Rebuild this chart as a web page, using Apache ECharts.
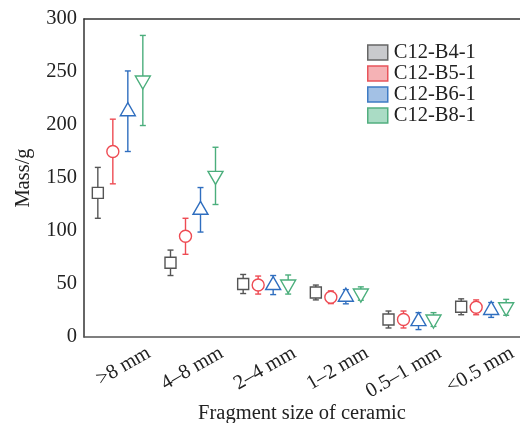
<!DOCTYPE html>
<html>
<head>
<meta charset="utf-8">
<script src="https://cdn.jsdelivr.net/npm/echarts@6/dist/echarts.min.js"></script>
<style>
  html, body { margin: 0; padding: 0; background: #fff; }
  #chart { width: 520px; height: 423px; }
</style>
</head>
<body>
<div id="chart"></div>
<script>
const categories = ['>8 mm', '4–8 mm', '2–4 mm', '1–2 mm', '0.5–1 mm', '<0.5 mm']
const seriesNames = ['C12-B4-1', 'C12-B5-1', 'C12-B6-1', 'C12-B8-1']

// mean mass (g) and error (±) per fragment size
const massB4 = [136, 70, 50, 42, 16.5, 28.5]
const errB4 = [24, 12, 9, 7, 8, 7.5]
const massB5 = [175, 95, 49, 37.5, 16.5, 28]
const errB5 = [30.5, 17, 8.5, 6, 8, 7]
const massB6 = [213, 120, 49, 38, 15, 25.5]
const errB6 = [38, 21, 9, 6.7, 8, 7]
const massB8 = [242, 152, 49.5, 41, 16.5, 28]
const errB8 = [42.5, 27, 9, 6.3, 6.5, 7.5]

const yTicks = [0, 50, 100, 150, 200, 250, 300]

const FONT = '"Liberation Serif", "Times New Roman", serif'
const FS = 20.5
const SPREAD = 15

const styles = [
  { line: '#555555', fill: '#c9cacd', border: '#666666', shape: 'square' },
  { line: '#ee4b53', fill: '#f5b2b5', border: '#e8545b', shape: 'circle' },
  { line: '#2f6ebf', fill: '#a3c1e5', border: '#3e7bc4', shape: 'up' },
  { line: '#4bae7c', fill: '#aadcc5', border: '#52ae7f', shape: 'down' },
]

function markerShape(shape, x, y, color) {
  const style = { fill: '#fff', stroke: color, lineWidth: 1.4 }
  if (shape === 'square') {
    return { type: 'rect', shape: { x: x - 5.5, y: y - 5.5, width: 11, height: 11 }, style }
  }
  if (shape === 'circle') {
    return { type: 'circle', shape: { cx: x, cy: y, r: 6 }, style }
  }
  if (shape === 'up') {
    return { type: 'polygon', shape: { points: [[x, y - 8.5], [x + 7.5, y + 4.5], [x - 7.5, y + 4.5]] }, style }
  }
  return { type: 'polygon', shape: { points: [[x, y + 8.5], [x + 7.5, y - 4.5], [x - 7.5, y - 4.5]] }, style }
}

function makeSeries(k, means, errs) {
  const st = styles[k]
  return {
    name: seriesNames[k],
    type: 'custom',
    data: means.map((m, i) => [i, m, errs[i]]),
    renderItem(params, api) {
      const ci = api.value(0)
      const m = api.value(1)
      const e = api.value(2)
      const x = api.coord([ci, m])[0] + (k - 1.5) * SPREAD
      const y = api.coord([ci, m])[1]
      const yt = api.coord([ci, m + e])[1]
      const yb = api.coord([ci, m - e])[1]
      const ls = { stroke: st.line, lineWidth: 1.4 }
      return {
        type: 'group',
        children: [
          { type: 'line', shape: { x1: x, y1: yt, x2: x, y2: yb }, style: ls },
          { type: 'line', shape: { x1: x - 3, y1: yt, x2: x + 3, y2: yt }, style: ls },
          { type: 'line', shape: { x1: x - 3, y1: yb, x2: x + 3, y2: yb }, style: ls },
          markerShape(st.shape, x, y, st.line),
        ],
      }
    },
  }
}

const chart = echarts.init(document.getElementById('chart'))

chart.setOption({
  animation: false,
  textStyle: { fontFamily: FONT },
  legend: {
    orient: 'vertical',
    left: 367,
    top: 42,
    itemWidth: 20,
    itemHeight: 15,
    itemGap: 0,
    padding: 0,
    textStyle: { fontFamily: FONT, fontSize: FS, color: '#222', lineHeight: 18.7, padding: [0, 0, 0, 1] },
    data: seriesNames.map((n, k) => ({
      name: n,
      icon: 'rect',
      itemStyle: { color: styles[k].fill, borderColor: styles[k].border, borderWidth: 1.5 },
    })),
  },
  grid: { left: 84, right: 0, top: 19, bottom: 86, containLabel: false, outerBoundsMode: 'none' },
  xAxis: [
    {
      type: 'category',
      data: categories,
      boundaryGap: true,
      name: 'Fragment size of ceramic',
      nameLocation: 'middle',
      nameGap: 66,
      nameMoveOverlap: false,
      nameTextStyle: { fontFamily: FONT, fontSize: FS, color: '#222' },
      axisLine: { lineStyle: { color: '#555', width: 1.5 } },
      axisTick: { alignWithLabel: true, inside: true, length: 5, lineStyle: { color: '#333', width: 1.3 } },
      axisLabel: {
        interval: 0,
        rotate: 30,
        margin: 31,
        padding: [0, -33, 0, 0],
        fontFamily: FONT,
        fontSize: FS,
        color: '#222',
      },
      splitLine: { show: false },
    },
    {
      type: 'category',
      data: categories,
      position: 'top',
      axisLine: { lineStyle: { color: '#333', width: 1.5 } },
      axisTick: { show: false },
      axisLabel: { show: false },
    },
  ],
  yAxis: {
    type: 'value',
    min: yTicks[0],
    max: yTicks[yTicks.length - 1],
    interval: yTicks[1] - yTicks[0],
    name: 'Mass/g',
    nameLocation: 'middle',
    nameGap: 50,
    nameMoveOverlap: false,
    nameTextStyle: { fontFamily: FONT, fontSize: FS, color: '#222' },
    axisLine: { show: true, lineStyle: { color: '#333', width: 1.5 } },
    axisTick: { show: false },
    axisLabel: { margin: 7, fontFamily: FONT, fontSize: FS, color: '#222' },
    splitLine: { show: false },
  },
  series: [
    makeSeries(0, massB4, errB4),
    makeSeries(1, massB5, errB5),
    makeSeries(2, massB6, errB6),
    makeSeries(3, massB8, errB8),
  ],
})
</script>
</body>
</html>
